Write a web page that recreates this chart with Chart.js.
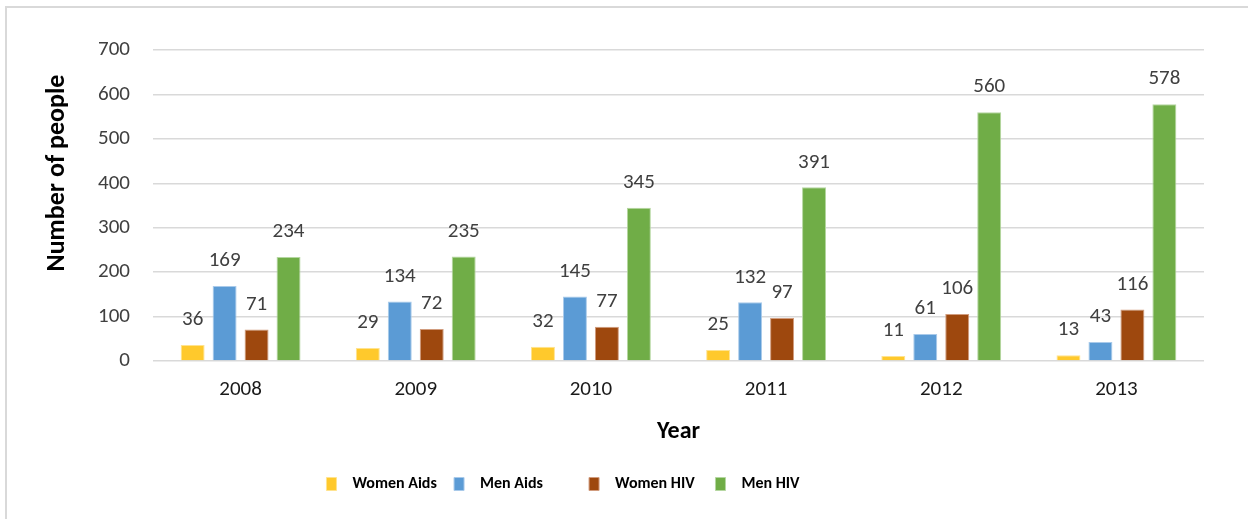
<!DOCTYPE html>
<html>
<head>
<meta charset="utf-8">
<script src="https://cdn.jsdelivr.net/npm/chart.js@4.4.1/dist/chart.umd.min.js"></script>
<style>
  html, body { margin: 0; padding: 0; background: #fff; }
  #wrap { position: relative; width: 1248px; height: 519px; overflow: hidden; }
  #frame { position: absolute; left: 5px; top: 6px; width: 1300px; height: 600px;
           border-left: 2px solid #d9d9d9; border-top: 2px solid #d9d9d9; box-sizing: border-box; pointer-events: none; }
  canvas { position: absolute; left: 0; top: 0; }
</style>
</head>
<body>
<div id="wrap">
  <canvas id="c" width="1248" height="519"></canvas>
  <div id="frame"></div>
</div>
<script>
const categories = ["2008", "2009", "2010", "2011", "2012", "2013"];
const womenAids = [36, 29, 32, 25, 11, 13];
const menAids = [169, 134, 145, 132, 61, 43];
const womenHIV = [71, 72, 77, 97, 106, 116];
const menHIV = [234, 235, 345, 391, 560, 578];
const yTicks = [0, 100, 200, 300, 400, 500, 600, 700];

const FONT = "Carlito, Lato, 'Liberation Sans', sans-serif";
const LEGEND_FONT = { family: FONT, size: 16, weight: 'bold' };
const legendAdvance = [131, 137, 129];

const valueLabels = {
  id: 'valueLabels',
  afterDatasetsDraw(chart) {
    const ctx = chart.ctx;
    ctx.save();
    ctx.font = "21px " + FONT;
    ctx.fillStyle = "#404040";
    ctx.textAlign = "center";
    ctx.textBaseline = "middle";
    chart.data.datasets.forEach((ds, i) => {
      chart.getDatasetMeta(i).data.forEach((bar, j) => {
        ctx.fillText(String(ds.data[j]), bar.x, bar.y - 25);
      });
    });
    ctx.restore();
  }
};

const legendShift = {
  id: 'legendShift',
  afterLayout(chart) {
    const lg = chart.legend;
    if (lg) { lg.left -= 39; lg.right -= 39; }
  }
};

new Chart(document.getElementById('c'), {
  type: 'bar',
  data: {
    labels: categories,
    datasets: [
      { label: 'Women Aids', data: womenAids, backgroundColor: '#FFC92C', borderColor: '#FFE38F', borderWidth: 1 },
      { label: 'Men Aids', data: menAids, backgroundColor: '#5B9BD5', borderColor: '#A9CAEA', borderWidth: 1 },
      { label: 'Women HIV', data: womenHIV, backgroundColor: '#9E480E', borderColor: '#D19C7E', borderWidth: 1 },
      { label: 'Men HIV', data: menHIV, backgroundColor: '#70AD47', borderColor: '#B5D7A1', borderWidth: 1 }
    ]
  },
  options: {
    responsive: false,
    animation: false,
    devicePixelRatio: 1,
    layout: { padding: { top: 50, right: 44, bottom: 17, left: 0 } },
    datasets: { bar: { categoryPercentage: 0.73, barPercentage: 0.75 } },
    plugins: {
      tooltip: { enabled: false },
      legend: {
        position: 'bottom',
        labels: {
          boxWidth: 10, boxHeight: 13, padding: 10,
          color: '#000',
          font: LEGEND_FONT,
          generateLabels(chart) {
            const items = Chart.defaults.plugins.legend.labels.generateLabels(chart);
            const ctx = chart.ctx;
            ctx.save();
            ctx.font = 'bold 16px ' + FONT;
            items.forEach((it, i) => {
              let t = '\u2002' + it.text;
              if (i < legendAdvance.length) {
                while (10 + 8 + ctx.measureText(t + ' ').width + 10 <= legendAdvance[i]) t += ' ';
              }
              it.text = t;
            });
            ctx.restore();
            return items;
          }
        }
      }
    },
    scales: {
      x: {
        grid: { display: false },
        border: { display: false },
        ticks: { color: '#1a1a1a', padding: 8, font: { family: FONT, size: 21 } },
        title: { display: true, text: 'Year', color: '#000', padding: { top: 4, bottom: 20 }, font: { family: FONT, size: 24, weight: 'bold' } },
        afterFit(scale) { scale.height = 105; }
      },
      y: {
        min: 0, max: 700,
        afterBuildTicks(scale) { scale.ticks = yTicks.map(v => ({ value: v })); },
        grid: { color: '#d9d9d9', lineWidth: 1.5, drawTicks: false },
        border: { display: false },
        ticks: { color: '#404040', padding: 23, font: { family: FONT, size: 21 } },
        title: { display: true, text: '\u2002\u2002\u2002\u2002\u2002Number of people', color: '#000', padding: { top: 42, bottom: 0 }, font: { family: FONT, size: 26, weight: 'bold' } },
        afterFit(scale) { scale.width = 153; }
      }
    }
  },
  plugins: [valueLabels, legendShift]
});
</script>
</body>
</html>
